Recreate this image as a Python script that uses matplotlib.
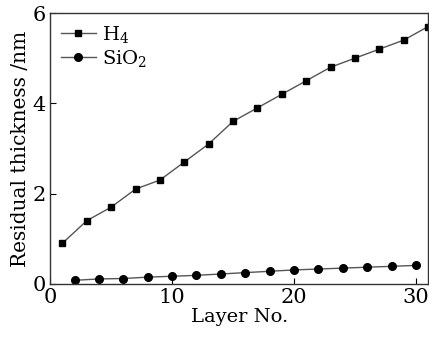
import matplotlib
matplotlib.use("Agg")
import matplotlib.pyplot as plt

layer_h4 = [1, 3, 5, 7, 9, 11, 13, 15, 17, 19, 21, 23, 25, 27, 29, 31]
thick_h4 = [0.9, 1.4, 1.7, 2.1, 2.3, 2.7, 3.1, 3.6, 3.9, 4.2, 4.5, 4.8, 5.0, 5.2, 5.4, 5.7]
layer_sio2 = [2, 4, 6, 8, 10, 12, 14, 16, 18, 20, 22, 24, 26, 28, 30]
thick_sio2 = [0.08, 0.11, 0.12, 0.15, 0.17, 0.19, 0.22, 0.25, 0.28, 0.31, 0.33, 0.35, 0.37, 0.39, 0.41]

plt.rcParams['font.family'] = ['DejaVu Serif']
plt.rcParams['mathtext.fontset'] = 'dejavuserif'

fig = plt.figure(figsize=(4.29, 3.38), dpi=100)
ax = fig.add_axes([0.117, 0.16, 0.881, 0.8015])

ax.plot(layer_h4, thick_h4, color='#555555', lw=1.0, marker='s', ms=5,
        mfc='black', mec='black', label='H$_4$')
ax.plot(layer_sio2, thick_sio2, color='#555555', lw=1.0, marker='o', ms=5.5,
        mfc='black', mec='black', label='SiO$_2$')

ax.set_xlim(0, 31)
ax.set_ylim(0, 6)
ax.set_xticks([0, 10, 20, 30])
ax.set_yticks([0, 2, 4, 6])
ax.tick_params(direction='in', labelsize=15, length=4, width=0.8, pad=3)
for s in ax.spines.values():
    s.set_linewidth(1.0)
    s.set_color('#333333')

ax.set_xlabel('Layer No.', fontsize=14, labelpad=1)
ax.set_ylabel('Residual thickness /nm', fontsize=14.5, labelpad=2)

ax.legend(loc='upper left', frameon=False, fontsize=14, handlelength=1.8,
          handletextpad=0.3, borderaxespad=0.15, labelspacing=0.15)

fig.savefig('out.png', dpi=100)
